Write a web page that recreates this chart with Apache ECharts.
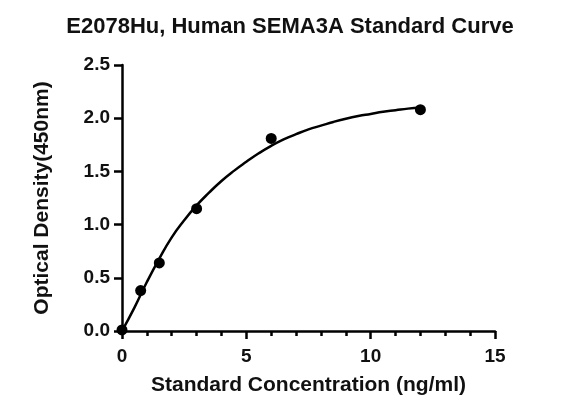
<!DOCTYPE html>
<html>
<head>
<meta charset="utf-8">
<script src="https://cdn.jsdelivr.net/npm/echarts@6/dist/echarts.min.js"></script>
<style>
  html, body { margin: 0; padding: 0; background: #fff; }
  #chart { width: 563px; height: 403px; }
</style>
</head>
<body>
<div id="chart"></div>
<script>
// Standard points (concentration ng/ml, OD 450nm)
const stdConc = [0, 0.75, 1.5, 3, 6, 12];
const stdOD = [0.01, 0.38, 0.64, 1.15, 1.81, 2.08];

// Fitted curve, every 0.5 ng/ml
const curveConc = [0, 0.5, 1, 1.5, 2, 2.5, 3, 3.5, 4, 4.5, 5, 5.5, 6, 6.5, 7, 7.5, 8, 8.5, 9, 9.5, 10, 10.5, 11, 11.5, 12];
const curveOD = [0, 0.22, 0.46, 0.68, 0.88, 1.04, 1.18, 1.30, 1.41, 1.505, 1.59, 1.67, 1.74, 1.80, 1.85, 1.895, 1.93, 1.965, 1.995, 2.02, 2.04, 2.06, 2.075, 2.09, 2.10];

const FONT = "'Liberation Sans', Arial, sans-serif";

const chart = echarts.init(document.getElementById("chart"));

chart.setOption({
  animation: false,
  title: {
    text: "E2078Hu, Human SEMA3A Standard Curve",
    left: 285,
    textAlign: "center",
    top: 11,
    textStyle: { fontFamily: FONT, fontSize: 22, fontWeight: "bold", color: "#111" },
  },
  grid: { left: 122, right: 68, top: 65, bottom: 72 },
  xAxis: {
    type: "value",
    min: 0,
    max: 15,
    interval: 5,
    name: "Standard Concentration (ng/ml)",
    nameLocation: "middle",
    nameGap: 44,
    nameTextStyle: { fontFamily: FONT, fontSize: 21, fontWeight: "bold", color: "#111" },
    axisLine: { onZero: false, lineStyle: { color: "#000", width: 2.5 } },
    axisTick: { length: 8, lineStyle: { color: "#000", width: 2.5 } },
    minorTick: { show: true, splitNumber: 5, length: 5, lineStyle: { color: "#000", width: 2.5 } },
    axisLabel: { fontFamily: FONT, fontSize: 19, fontWeight: "bold", color: "#111", margin: 16 },
    splitLine: { show: false },
  },
  yAxis: {
    type: "value",
    min: 0,
    max: 2.5,
    interval: 0.5,
    name: "Optical Density(450nm)",
    nameLocation: "middle",
    nameGap: 69,
    nameTextStyle: { fontFamily: FONT, fontSize: 21, fontWeight: "bold", color: "#111" },
    axisLine: { show: true, lineStyle: { color: "#000", width: 2.5 } },
    axisTick: { show: true, length: 8, lineStyle: { color: "#000", width: 2.5 } },
    axisLabel: {
      fontFamily: FONT,
      fontSize: 19,
      fontWeight: "bold",
      color: "#111",
      margin: 12,
      formatter: (v) => v.toFixed(1),
    },
    splitLine: { show: false },
  },
  series: [
    {
      type: "line",
      data: curveConc.map((x, i) => [x, curveOD[i]]),
      smooth: 0.5,
      showSymbol: false,
      lineStyle: { color: "#000", width: 2.5 },
      z: 2,
    },
    {
      type: "scatter",
      data: stdConc.map((x, i) => [x, stdOD[i]]),
      symbol: "circle",
      symbolSize: 11,
      itemStyle: { color: "#000", opacity: 1 },
      z: 3,
    },
  ],
});
</script>
</body>
</html>
